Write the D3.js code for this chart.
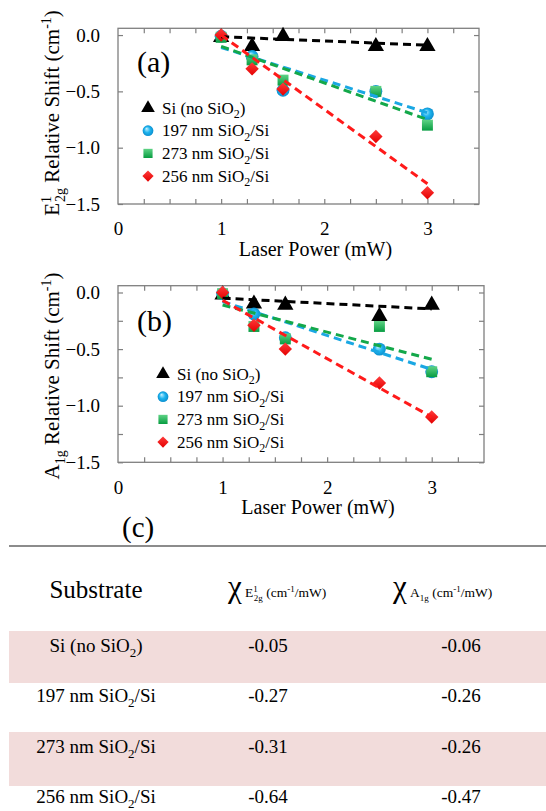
<!DOCTYPE html>
<html>
<head>
<meta charset="utf-8">
<script src="https://cdn.jsdelivr.net/npm/d3@7"></script>
<style>
  body { margin: 0; background: #fff; }
  svg text { font-family: "Liberation Serif", "DejaVu Serif", "Times New Roman", serif; }
</style>
</head>
<body>
<svg id="chart"></svg>
<script>
"use strict";

// laser power (mW) of every measurement
var power = [1, 1.3, 1.6, 2.5, 3];

// E1_2g shift (cm-1)
var e2gSi = [-0.02, -0.10, -0.01, -0.10, -0.10];
var e2g197 = [-0.01, -0.19, -0.49, -0.50, -0.70];
var e2g273 = [-0.02, -0.22, -0.40, -0.50, -0.80];
var e2g256 = [0.00, -0.30, -0.48, -0.90, -1.40];

// A1g shift (cm-1)
var a1gSi = [-0.02, -0.10, -0.11, -0.21, -0.11];
var a1g197 = [-0.01, -0.19, -0.40, -0.50, -0.70];
var a1g273 = [-0.01, -0.30, -0.41, -0.30, -0.70];
var a1g256 = [0.00, -0.29, -0.50, -0.80, -1.10];

// dashed fit lines, value at x = 1 and x = 3
var fitX = [1, 3];
var e2gFitSi = [-0.015, -0.09];
var e2gFit197 = [-0.11, -0.69];
var e2gFit273 = [-0.10, -0.75];
var e2gFit256 = [0.00, -1.32];
var a1gFitSi = [-0.05, -0.145];
var a1gFit197 = [-0.08, -0.68];
var a1gFit273 = [-0.11, -0.59];
var a1gFit256 = [-0.07, -1.10];

var seriesLabels = ["Si (no SiO2)", "197 nm SiO2/Si", "273 nm SiO2/Si", "256 nm SiO2/Si"];

var xTickLabels = [0, 1, 2, 3];

// table (c)
var tableSubstrates = ["Si (no SiO2)", "197 nm SiO2/Si", "273 nm SiO2/Si", "256 nm SiO2/Si"];
var chiE2g = ["-0.05", "-0.27", "-0.31", "-0.64"];
var chiA1g = ["-0.06", "-0.26", "-0.26", "-0.47"];

var FONT = '"Liberation Serif", "DejaVu Serif", "Times New Roman", serif';

var settings = {
    svg: { width: 546, height: 811 },
    frame: { color: '#7f7f7f', width: 1.3 },
    dash: { width: 3, pattern: '8,5' },
    series: [
        { symbol: d3.symbolTriangle, size: 115, rot: 0, fill: '#000', line: '#000' },
        { symbol: d3.symbolCircle, size: 130, rot: 0, fill: 'url(#gBlue)', line: '#1aa7e3' },
        { symbol: d3.symbolSquare, size: 120, rot: 0, fill: 'url(#gGreen)', line: '#13a84a' },
        { symbol: d3.symbolSquare, size: 90, rot: 45, fill: 'url(#gRed)', line: '#ff1a1a' }
    ]
};

var panels = [
    {
        left: 118, right: 479, top: 28.3, bottom: 204,
        yTicks: [0, -0.5, -1.0, -1.5],
        values: [e2gSi, e2g197, e2g273, e2g256],
        fits: [e2gFitSi, e2gFit197, e2gFit273, e2gFit256],
        tag: '(a)', tagY: 72,
        legend: { x: 148, y: 108 },
        title: ['E', { sup: '1' }, { sub: '2g', dx: -6 }, ' Relative Shift (cm', { sup: '-1' }, ')'],
        titleY: 113
    },
    {
        left: 118, right: 484, top: 285.7, bottom: 462.3,
        yTicks: [0, -0.25, -0.5, -0.75, -1.0, -1.25, -1.5],
        values: [a1gSi, a1g197, a1g273, a1g256],
        fits: [a1gFitSi, a1gFit197, a1gFit273, a1gFit256],
        tag: '(b)', tagY: 331,
        legend: { x: 163, y: 374 },
        title: ['A', { sub: '1g' }, ' Relative Shift (cm', { sup: '-1' }, ')'],
        titleY: 376
    }
];

var svg = d3.select('#chart')
    .attr('width', settings.svg.width)
    .attr('height', settings.svg.height)
    .attr('font-family', FONT);

var defs = svg.append('defs');
var gb = defs.append('radialGradient').attr('id', 'gBlue').attr('fx', '35%').attr('fy', '30%');
gb.append('stop').attr('offset', '0%').attr('stop-color', '#c9f1ff');
gb.append('stop').attr('offset', '55%').attr('stop-color', '#1eb4ee');
gb.append('stop').attr('offset', '100%').attr('stop-color', '#0b8fcf');
var gg = defs.append('linearGradient').attr('id', 'gGreen').attr('x1', 0).attr('y1', 0).attr('x2', 0).attr('y2', 1);
gg.append('stop').attr('offset', '0%').attr('stop-color', '#5fd385');
gg.append('stop').attr('offset', '100%').attr('stop-color', '#079c41');
var gr = defs.append('linearGradient').attr('id', 'gRed').attr('x1', 0).attr('y1', 0).attr('x2', 1).attr('y2', 1);
gr.append('stop').attr('offset', '0%').attr('stop-color', '#ff3b3b');
gr.append('stop').attr('offset', '100%').attr('stop-color', '#e40000');

// text made of plain strings, {sup} and {sub} parts; the shift is undone on the next part
function richText(sel, parts, size) {
    var small = Math.round(size * 0.68);
    var shift = 0;
    parts.forEach(function (p) {
        var t = sel.append('tspan');
        var dy = 0;
        if (typeof p === 'string') {
            t.attr('font-size', size).text(p);
            dy = -shift; shift = 0;
        } else if (p.sup) {
            t.attr('font-size', small).text(p.sup);
            dy = -size * 0.38 - shift; shift = -size * 0.38;
        } else {
            t.attr('font-size', small).text(p.sub);
            if (p.dx) t.attr('dx', p.dx);
            dy = size * 0.28 - shift; shift = size * 0.28;
        }
        if (dy) t.attr('dy', dy);
    });
}

// "SiO2" gets a subscript 2
function chemParts(label) {
    var out = [];
    label.split('SiO2').forEach(function (p, i, arr) {
        if (p) out.push(p);
        if (i < arr.length - 1) { out.push('SiO'); out.push({ sub: '2' }); }
    });
    return out;
}

panels.forEach(function (pn) {
    var x = d3.scaleLinear().domain([0, 3.5]).range([pn.left, pn.right]);
    var y = d3.scaleLinear().domain([-1.5, 0.06]).range([pn.bottom, pn.top]);
    var g = svg.append('g');
    var minorX = d3.range(1, 14).map(function (i) { return i * 0.25; });

    var tickStyle = function (a) {
        a.select('.domain').remove();
        a.selectAll('line').attr('stroke', settings.frame.color).attr('stroke-width', 1.2);
    };

    g.append('g').attr('transform', 'translate(0,' + pn.bottom + ')')
        .call(d3.axisBottom(x).tickValues(minorX).tickSize(-5).tickFormat(''))
        .call(tickStyle);
    g.append('g').attr('transform', 'translate(0,' + pn.top + ')')
        .call(d3.axisTop(x).tickValues(minorX).tickSize(-5).tickFormat(''))
        .call(tickStyle);
    g.append('g').attr('transform', 'translate(' + pn.left + ',0)')
        .call(d3.axisLeft(y).tickValues(pn.yTicks).tickSize(-5).tickFormat(''))
        .call(tickStyle);
    g.append('g').attr('transform', 'translate(' + pn.right + ',0)')
        .call(d3.axisRight(y).tickValues(pn.yTicks).tickSize(-5).tickFormat(''))
        .call(tickStyle);

    // tick labels
    var xl = g.append('g').attr('transform', 'translate(0,' + pn.bottom + ')')
        .call(d3.axisBottom(x).tickValues(xTickLabels).tickSize(0).tickPadding(18).tickFormat(d3.format('d')));
    xl.select('.domain').remove();
    var yl = g.append('g').attr('transform', 'translate(' + pn.left + ',0)')
        .call(d3.axisLeft(y).tickValues([0, -0.5, -1.0, -1.5]).tickSize(0).tickPadding(18).tickFormat(d3.format('.1f')));
    yl.select('.domain').remove();
    xl.attr('font-family', FONT).attr('font-size', 19);
    yl.attr('font-family', FONT).attr('font-size', 19);
    g.selectAll('.tick text').attr('fill', '#000');

    g.append('rect')
        .attr('x', pn.left).attr('y', pn.top)
        .attr('width', pn.right - pn.left).attr('height', pn.bottom - pn.top)
        .attr('fill', 'none')
        .attr('stroke', settings.frame.color)
        .attr('stroke-width', settings.frame.width);

    // markers
    pn.values.forEach(function (vals, si) {
        var s = settings.series[si];
        g.append('g').selectAll('path')
            .data(vals.map(function (v, i) { return { x: power[i], y: v }; }))
            .enter().append('path')
            .attr('transform', function (d) {
                return 'translate(' + x(d.x) + ',' + y(d.y) + ') rotate(' + s.rot + ')';
            })
            .attr('d', d3.symbol().type(s.symbol).size(s.size))
            .attr('fill', s.fill);
    });

    // dashed fit lines
    pn.fits.forEach(function (f, si) {
        g.append('line')
            .attr('x1', x(fitX[0])).attr('y1', y(f[0]))
            .attr('x2', x(fitX[1])).attr('y2', y(f[1]))
            .attr('stroke', settings.series[si].line)
            .attr('stroke-width', settings.dash.width)
            .attr('stroke-dasharray', settings.dash.pattern);
    });

    // panel tag
    g.append('text').attr('x', 137).attr('y', pn.tagY).attr('font-size', 30).text(pn.tag);

    // legend
    seriesLabels.forEach(function (lab, i) {
        var s = settings.series[i];
        var ly = pn.legend.y + i * 22.7;
        g.append('path')
            .attr('transform', 'translate(' + pn.legend.x + ',' + ly + ') rotate(' + s.rot + ')')
            .attr('d', d3.symbol().type(s.symbol).size(s.size * 0.7))
            .attr('fill', s.fill);
        var t = g.append('text').attr('x', pn.legend.x + 14).attr('y', ly + 5.5).attr('font-size', 17);
        richText(t, chemParts(lab), 17);
    });

    // axis titles
    g.append('text')
        .attr('x', (pn.left + pn.right) / 2 + 17).attr('y', pn.bottom + 52)
        .attr('text-anchor', 'middle').attr('font-size', 20)
        .text('Laser Power (mW)');
    var yt = g.append('text')
        .attr('transform', 'translate(59,' + pn.titleY + ') rotate(-90)')
        .attr('text-anchor', 'middle').attr('font-size', 21);
    richText(yt, pn.title, 21);
});

// ---- table (c)
var table = svg.append('g');
table.append('text').attr('x', 122).attr('y', 537).attr('font-size', 29).text('(c)');
table.append('line').attr('x1', 9).attr('x2', 546).attr('y1', 546).attr('y2', 546)
    .attr('stroke', '#8c8c8c').attr('stroke-width', 2);

var rowTop = [631, 683, 732, 786];
var rowBottom = [683, 732, 786, 811];
var rowBaseline = [652, 702, 753, 803];
var colX = [96, 268, 461];

table.selectAll('rect.band')
    .data(rowTop)
    .enter().append('rect')
    .attr('class', 'band')
    .attr('x', 9).attr('y', function (d) { return d; })
    .attr('width', 537).attr('height', function (d, i) { return rowBottom[i] - d; })
    .attr('fill', function (d, i) { return i % 2 === 0 ? '#f2dcdb' : '#fff'; });

table.append('text').attr('x', colX[0]).attr('y', 598).attr('text-anchor', 'middle')
    .attr('font-size', 25).text('Substrate');

function chiHeader(x0, parts) {
    var t = table.append('text').attr('x', x0).attr('y', 597).attr('font-size', 13);
    t.append('tspan').attr('font-size', 31).text('\u03c7');
    t.append('tspan').attr('font-size', 13).text(' ');
    richText(t, parts, 13.5);
}
chiHeader(228, ['E', { sup: '1' }, { sub: '2g', dx: -4 }, ' (cm', { sup: '-1' }, '/mW)']);
chiHeader(393, ['A', { sub: '1g' }, ' (cm', { sup: '-1' }, '/mW)']);

tableSubstrates.forEach(function (s, i) {
    var t = table.append('text').attr('x', colX[0]).attr('y', rowBaseline[i])
        .attr('text-anchor', 'middle').attr('font-size', 19);
    richText(t, chemParts(s), 19);
    table.append('text').attr('x', colX[1]).attr('y', rowBaseline[i])
        .attr('text-anchor', 'middle').attr('font-size', 19).text(chiE2g[i]);
    table.append('text').attr('x', colX[2]).attr('y', rowBaseline[i])
        .attr('text-anchor', 'middle').attr('font-size', 19).text(chiA1g[i]);
});
</script>
</body>
</html>
